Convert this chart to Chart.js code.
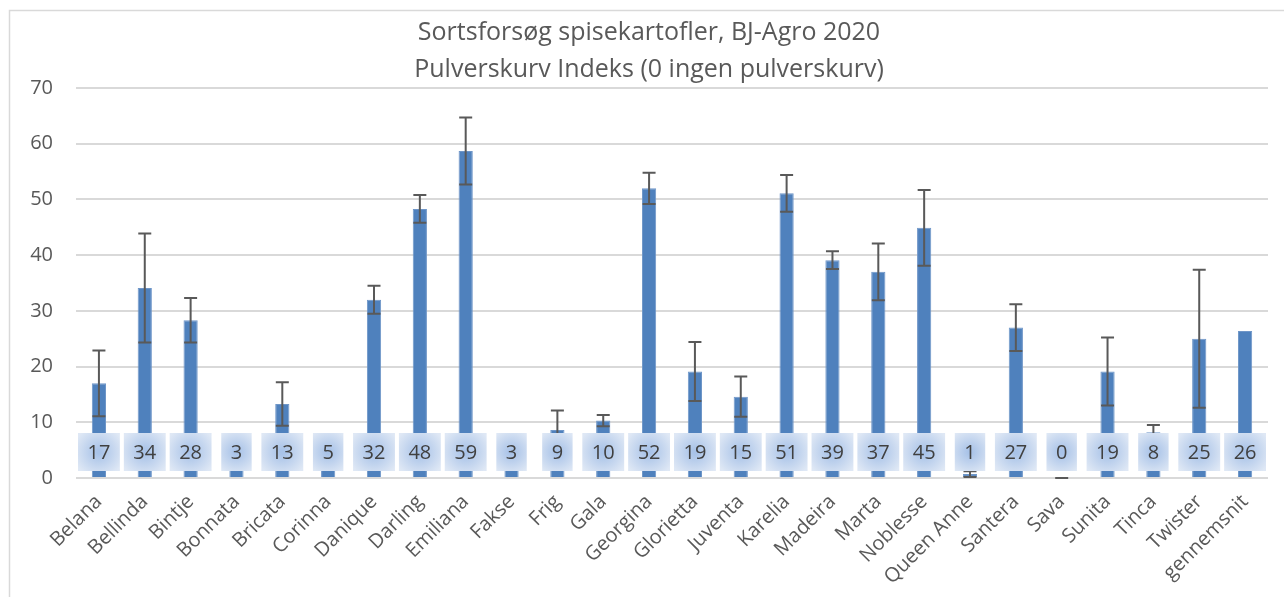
<!DOCTYPE html>
<html>
<head>
<meta charset="utf-8">
<script src="https://cdn.jsdelivr.net/npm/chart.js@4"></script>
<style>
  html, body { margin: 0; padding: 0; background: #fff; }
  #wrap { width: 1284px; height: 597px; }
</style>
</head>
<body>
<div id="wrap"><canvas id="chart-scab"></canvas></div>
<script>
// Pulverskurv index per variety
const varieties = ['Belana', 'Bellinda', 'Bintje', 'Bonnata', 'Bricata', 'Corinna', 'Danique', 'Darling',
    'Emiliana', 'Fakse', 'Frig', 'Gala', 'Georgina', 'Glorietta', 'Juventa', 'Karelia', 'Madeira',
    'Marta', 'Noblesse', 'Queen Anne', 'Santera', 'Sava', 'Sunita', 'Tinca', 'Twister', 'gennemsnit'];
const scabIndex = [17.0, 34.1, 28.3, 3.0, 13.3, 5.0, 32.0, 48.3, 58.7, 3.0, 8.6, 10.3, 52.0, 19.1,
    14.6, 51.1, 39.1, 37.0, 44.9, 0.7, 27.0, 0, 19.1, 8.2, 25.0, 26.4];
// +/- spread (null = no error bar)
const scabError = [5.9, 9.8, 4.0, null, 3.9, null, 2.5, 2.5, 6.0, null, 3.5, 1.0, 2.8, 5.3,
    3.6, 3.3, 1.6, 5.1, 6.8, 0.5, 4.2, 0, 6.1, 1.3, 12.4, null];
const yTicks = [0, 10, 20, 30, 40, 50, 60, 70];
const titleLines = ['Sortsforsøg spisekartofler, BJ-Agro 2020', 'Pulverskurv Indeks (0 ingen pulverskurv)'];

const COLORS = {
    bar: '#4f81bd',
    barEdge: '#6f96c8',
    error: '#595959',
    text: '#595959',
    label: '#404040',
    grid: '#d9d9d9',
    frame: '#d9d9d9'
};
const FONT = "'Open Sans', sans-serif";

// outer chart frame, like the Excel chart area border
const framePlugin = {
    id: 'frame',
    beforeDraw(chart) {
        const ctx = chart.ctx;
        ctx.save();
        ctx.strokeStyle = COLORS.frame;
        ctx.lineWidth = 1.5;
        ctx.strokeRect(9.5, 10.5, chart.width + 20, chart.height + 20);
        ctx.restore();
    }
};

// error bars with caps
const errorBarPlugin = {
    id: 'errorBars',
    afterDatasetsDraw(chart) {
        const ctx = chart.ctx;
        const y = chart.scales.y;
        const meta = chart.getDatasetMeta(0);
        ctx.save();
        ctx.strokeStyle = COLORS.error;
        ctx.lineWidth = 2;
        meta.data.forEach((bar, i) => {
            const e = scabError[i];
            if (e === null) return;
            const v = scabIndex[i];
            const top = y.getPixelForValue(v + e);
            const bot = y.getPixelForValue(Math.max(v - e, 0));
            const cap = 6.5;
            ctx.beginPath();
            ctx.moveTo(bar.x, top); ctx.lineTo(bar.x, bot);
            ctx.moveTo(bar.x - cap, top); ctx.lineTo(bar.x + cap, top);
            ctx.moveTo(bar.x - cap, bot); ctx.lineTo(bar.x + cap, bot);
            ctx.stroke();
        });
        ctx.restore();
    }
};

// value boxes sitting near the base of every bar
const valueBoxPlugin = {
    id: 'valueBoxes',
    afterDatasetsDraw(chart) {
        const ctx = chart.ctx;
        const y = chart.scales.y;
        const meta = chart.getDatasetMeta(0);
        const cy = y.getPixelForValue(0) - 26;
        const h = 38;
        ctx.save();
        ctx.font = `20px ${FONT}`;
        ctx.textAlign = 'center';
        ctx.textBaseline = 'middle';
        meta.data.forEach((bar, i) => {
            const txt = String(Math.round(scabIndex[i]));
            const w = ctx.measureText(txt).width + 19;
            const x0 = bar.x - w / 2, y0 = cy - h / 2;
            const g = ctx.createRadialGradient(bar.x, cy, 2, bar.x, cy, Math.max(w, h) * 0.62);
            g.addColorStop(0, '#a9c3e8');
            g.addColorStop(1, '#dfe8f5');
            ctx.fillStyle = g;
            ctx.fillRect(x0, y0, w, h);
            ctx.fillStyle = COLORS.label;
            ctx.fillText(txt, bar.x, cy + 1);
        });
        ctx.restore();
    }
};

const ctx = document.getElementById('chart-scab').getContext('2d');
new Chart(ctx, {
    type: 'bar',
    data: {
        labels: varieties,
        datasets: [{
            label: 'Pulverskurv',
            data: scabIndex,
            backgroundColor: COLORS.bar,
            borderColor: COLORS.barEdge,
            borderWidth: 1,
            categoryPercentage: 1,
            barPercentage: 0.31
        }]
    },
    options: {
        responsive: true,
        maintainAspectRatio: false,
        animation: false,
        layout: { padding: { left: 30, right: 16, top: 0, bottom: 0 } },
        plugins: {
            legend: { display: false },
            tooltip: { enabled: false },
            title: {
                display: true,
                text: titleLines,
                color: COLORS.text,
                font: { family: FONT, size: 25, weight: 'normal', lineHeight: 1.48 },
                padding: { top: 14, bottom: 0 }
            }
        },
        scales: {
            x: {
                grid: { display: false },
                border: { display: false },
                ticks: {
                    color: COLORS.text,
                    font: { family: FONT, size: 20 },
                    minRotation: 45,
                    maxRotation: 45,
                    autoSkip: false,
                    padding: 4
                },
                afterFit: (scale) => { scale.height = 119; }
            },
            y: {
                min: 0,
                max: 70,
                afterBuildTicks: (scale) => { scale.ticks = yTicks.map(v => ({ value: v })); },
                grid: { color: COLORS.grid, lineWidth: 2, drawTicks: false },
                border: { display: false },
                ticks: {
                    color: COLORS.text,
                    font: { family: FONT, size: 20 },
                    padding: 23
                },
                afterFit: (scale) => { scale.width = 46; }
            }
        }
    },
    plugins: [framePlugin, errorBarPlugin, valueBoxPlugin]
});
</script>
</body>
</html>
